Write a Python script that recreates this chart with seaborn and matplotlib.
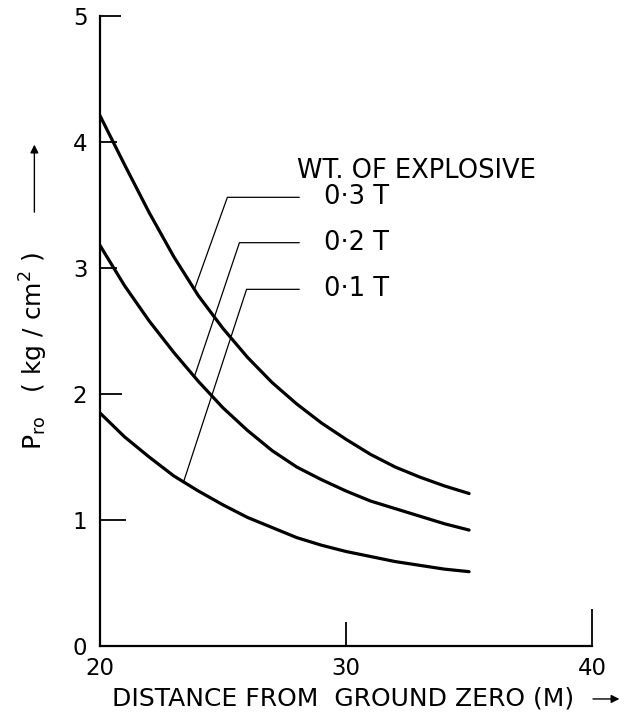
import numpy as np
import pandas as pd
import seaborn as sns
import matplotlib.pyplot as plt

# values
distance = [20, 21, 22, 23, 24, 25, 26, 27, 28, 29, 30, 31, 32, 33, 34, 35]
p_03 = [4.21, 3.82, 3.44, 3.09, 2.78, 2.52, 2.29, 2.09, 1.92, 1.77, 1.64, 1.52, 1.42, 1.34, 1.27, 1.21]
p_02 = [3.18, 2.86, 2.58, 2.33, 2.10, 1.89, 1.71, 1.55, 1.42, 1.32, 1.23, 1.15, 1.09, 1.03, 0.97, 0.92]
p_01 = [1.85, 1.66, 1.50, 1.35, 1.23, 1.12, 1.02, 0.94, 0.86, 0.80, 0.75, 0.71, 0.67, 0.64, 0.61, 0.59]
charges = ['0·3 T', '0·2 T', '0·1 T']

df = pd.DataFrame({
    'x': distance * 3,
    'p': p_03 + p_02 + p_01,
    'charge': [charges[0]] * 16 + [charges[1]] * 16 + [charges[2]] * 16,
})

sns.set_style('ticks')
plt.rcParams['font.family'] = ['DejaVu Sans']
plt.rcParams['text.color'] = 'black'
plt.rcParams['xtick.color'] = 'black'
plt.rcParams['ytick.color'] = 'black'
fs = 16.5
fs_big = 18.5

fig = plt.figure(figsize=(6.32, 7.19), dpi=100)
ax = fig.add_axes([0.158, 0.1015, 0.779, 0.8765])

sns.lineplot(data=df, x='x', y='p', hue='charge', palette={c: 'black' for c in charges},
             linewidth=2.3, legend=False, ax=ax, sort=True)

ax.set_xlim(20, 40)
ax.set_ylim(0, 5)
ax.set_xticks([20, 30, 40])
ax.set_yticks([0, 1, 2, 3, 4, 5])
ax.tick_params(axis='both', direction='in', labelsize=fs, width=1.3, color='black', labelcolor='black')
ax.tick_params(axis='y', pad=9)
ax.tick_params(axis='x', pad=8)
for t, ln in zip(ax.yaxis.get_major_ticks(), [0, 19, 16, 12, 12, 15]):
    t.tick1line.set_markersize(ln)
for t, ln in zip(ax.xaxis.get_major_ticks(), [0, 17, 27]):
    t.tick1line.set_markersize(ln)
sns.despine(ax=ax)
for s in ['left', 'bottom']:
    ax.spines[s].set_linewidth(1.6)
    ax.spines[s].set_color('black')
ax.set_xlabel('')
ax.set_ylabel('')

# leader lines from each curve to its label
series = {charges[0]: p_03, charges[1]: p_02, charges[2]: p_01}
leaders = {charges[0]: (23.84, 25.18, 3.56), charges[1]: (23.84, 25.67, 3.20), charges[2]: (23.4, 25.96, 2.83)}
for c in charges:
    x0, xb, yb = leaders[c]
    y0 = np.interp(x0, distance, series[c])
    ax.plot([x0, xb, 28.1], [y0, yb, yb], color='black', linewidth=0.9)
    ax.text(29.1, yb, c, fontsize=fs_big, va='center', ha='left')
ax.text(28.0, 3.77, 'WT. OF EXPLOSIVE', fontsize=fs_big, va='center', ha='left')

# axis titles
ax.text(-0.133, 0.468, r'P$_{\rm ro}$   ( kg / cm$^2$ )', transform=ax.transAxes,
        rotation=90, fontsize=18, va='center', ha='center')
ax.annotate('', xy=(-0.133, 0.80), xytext=(-0.133, 0.684), xycoords='axes fraction',
            arrowprops=dict(arrowstyle='-|>', color='black', lw=1.0, mutation_scale=12))
ax.text(0.495, -0.084, 'DISTANCE FROM  GROUND ZERO (M)', transform=ax.transAxes,
        fontsize=18, va='center', ha='center')
ax.annotate('', xy=(1.061, -0.084), xytext=(0.996, -0.084), xycoords='axes fraction',
            arrowprops=dict(arrowstyle='-|>', color='black', lw=1.0, mutation_scale=12))

fig.savefig('out.png', dpi=100)
